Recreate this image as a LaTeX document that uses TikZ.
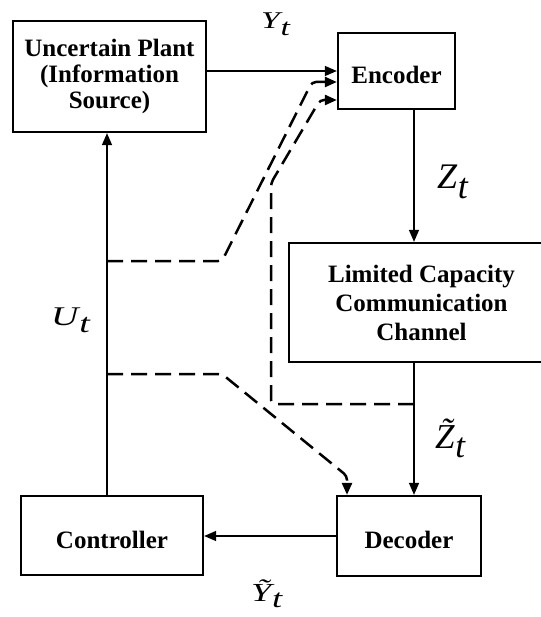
\documentclass[tikz,border=0pt]{standalone}
\usepackage{fontspec}
\setmainfont{Liberation Serif}
\usetikzlibrary{arrows.meta}

% lowered subscript set at (almost) full size, as in the signal names
\newcommand\sigsub[1]{\kern0.02em\raisebox{-0.26em}{#1}}
% horizontally widened italic for the smaller signal names
\newcommand\widesig[2]{\scalebox{#1}[1]{#2}}

\tikzset{
  blk/.style={draw, rectangle, line width=2.3pt, inner sep=0pt, align=center,
    font=\fontsize{25pt}{25.7pt}\selectfont\bfseries},
  oneline/.style={text height=25.7pt, text depth=0pt},
  sig/.style={line width=1.5pt, -{Triangle[length=12pt,width=10pt]}},
  fb/.style={line width=2.5pt, dash pattern=on 16pt off 8pt, rounded corners=4pt,
    -{Triangle[length=12pt,width=10pt]}},
  lbl/.style={inner sep=0pt, anchor=base west},
}

\begin{document}
\begin{tikzpicture}[x=1pt,y=-1pt]
\useasboundingbox (0,0) rectangle (540,617);

% blocks
\node[blk, minimum width=193pt, minimum height=111pt] (plant) at (109.5,76.5)
  {Uncertain Plant\\(Information\\Source)};
\node[blk, oneline, minimum width=117pt, minimum height=76pt] (enc) at (396.5,71) {Encoder};
\node[blk, minimum width=265pt, minimum height=119pt,
  font=\fontsize{25pt}{29pt}\selectfont\bfseries] (chan) at (421.5,302.5)
  {Limited Capacity\\Communication\\Channel};
\node[blk, oneline, minimum width=182pt, minimum height=79pt] (ctrl) at (112,535.5) {Controller};
\node[blk, oneline, minimum width=144pt, minimum height=80pt] (dec) at (409,536) {Decoder};

% signal columns and branch points
\coordinate (colL) at (107,0);
\coordinate (colR) at (414,0);
\coordinate (u1) at (107,261);
\coordinate (u2) at (107,374);
\coordinate (zt) at (414,404);
\coordinate (encA) at ([yshift=-11pt]enc.west);
\coordinate (encB) at ([yshift=-29pt]enc.west);
\coordinate (decA) at ([xshift=-62pt]dec.north);

% main loop
\draw[sig] (plant.east |- enc.west) -- (enc.west);
\draw[sig] (enc.south -| colR) -- (chan.north -| colR);
\draw[sig] (chan.south -| colR) -- (dec.north -| colR);
\draw[sig] (dec.west) -- (ctrl.east |- dec.west);
\draw[sig] (ctrl.north -| colL) -- (plant.south -| colL);

% side information (dashed)
\draw[fb] (u1) -- (222,261) -- (312,82) -- (encA);
\draw[fb] (zt) -- (271,404) -- (271,183) -- (320,100) -- (encB);
\draw[fb] (u2) -- (222,374) -- (347,476) -- (decA);

% signal names
\node[lbl, font=\fontsize{24pt}{24pt}\selectfont\itshape] (ylab) at (261,29) {\widesig{1.4}{Y\sigsub{t}}};
\node[lbl, font=\fontsize{36pt}{36pt}\selectfont\itshape] (zlab) at (437,189) {Z\sigsub{t}};
\node[lbl, font=\fontsize{27pt}{27pt}\selectfont\itshape] (ulab) at (51,325) {\widesig{1.4}{U\sigsub{t}}};
\node[lbl, font=\fontsize{35pt}{35pt}\selectfont\itshape] (ztlab) at (435,448) {Z̃\sigsub{t}};
\node[lbl, font=\fontsize{26pt}{26pt}\selectfont\itshape] (ytlab) at (251,601) {\widesig{1.4}{Ỹ\sigsub{t}}};
\end{tikzpicture}
\end{document}
